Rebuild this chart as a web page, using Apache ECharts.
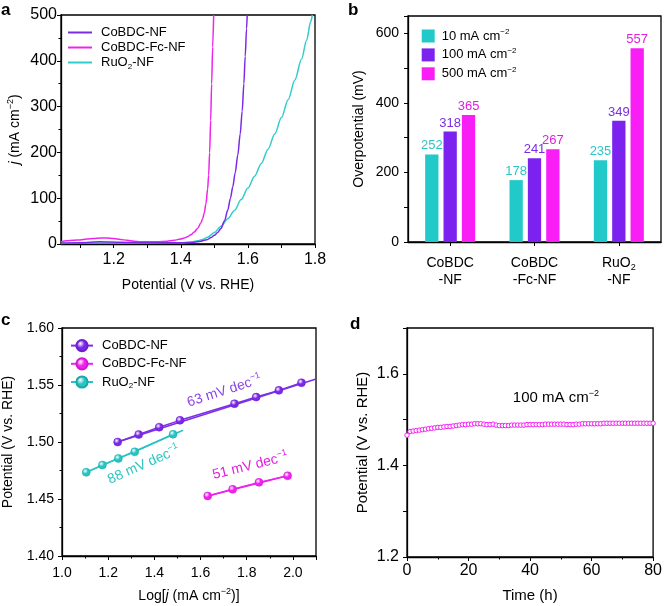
<!DOCTYPE html>
<html><head><meta charset="utf-8">
<script src="https://cdn.jsdelivr.net/npm/echarts@6/dist/echarts.min.js"></script>
<style>html,body{margin:0;padding:0;background:#fff}#c{width:665px;height:606px}</style>
</head><body><div id="c"></div>
<script>
// ---- Panel a: polarization curves [potential (V vs RHE), j (mA cm-2)]
const lsvCoBDC = [[1.043,2],[1.10,3],[1.16,5],[1.22,4],[1.30,3],[1.40,3],[1.44,4],[1.46,6],[1.47,8],[1.48,10],[1.49,14],[1.50,19],[1.51,25],[1.52,34],[1.53,50],[1.54,74],[1.548,100],[1.555,125],[1.562,155],[1.57,195],[1.577,240],[1.583,290],[1.588,350],[1.592,410],[1.596,470],[1.598,500]];
const lsvCoBDCFc = [[1.043,5],[1.06,7],[1.08,8],[1.10,9],[1.12,11],[1.14,12],[1.16,13],[1.18,13],[1.20,12],[1.22,10],[1.24,8],[1.26,6],[1.28,5],[1.30,5],[1.33,5],[1.36,6],[1.38,8],[1.40,11],[1.41,13],[1.42,16],[1.43,20],[1.44,26],[1.45,34],[1.46,46],[1.465,55],[1.47,68],[1.475,88],[1.48,120],[1.483,150],[1.486,200],[1.489,270],[1.492,350],[1.495,430],[1.498,500]];
const lsvRuO2 = [[1.043,1],[1.10,2],[1.20,2],[1.30,2],[1.40,3],[1.43,4],[1.45,7],[1.465,10],[1.48,15],[1.50,25],[1.52,39],[1.54,55],[1.56,73],[1.58,97],[1.60,122],[1.62,148],[1.64,176],[1.66,207],[1.68,240],[1.70,276],[1.72,315],[1.74,358],[1.76,404],[1.775,445],[1.787,485],[1.792,500]];
const ticksA = [1.2,1.4,1.6,1.8];
const minorTicksA = [1.1,1.2,1.3,1.4,1.5,1.6,1.7,1.8];

// ---- Panel b: overpotentials (mV)
const catB = ['CoBDC-NF','CoBDC-Fc-NF','RuO2-NF'];
const eta10 = [252,178,235];
const eta100 = [318,241,349];
const eta500 = [365,267,557];
const ticksB = [0,200,400,600];

// ---- Panel c: Tafel plots [log j, potential]
const tafCoBDC = [[1.241,1.500],[1.332,1.5066],[1.421,1.513],[1.511,1.519],[1.747,1.5336],[1.841,1.5394],[1.939,1.5453],[2.037,1.552]];
const tafCoBDCFc = [[1.631,1.4527],[1.739,1.4585],[1.853,1.4646],[1.977,1.4704]];
const tafRuO2 = [[1.105,1.4734],[1.175,1.4798],[1.244,1.4856],[1.315,1.4914],[1.481,1.5068]];
const fitCoBDC = [[1.241,1.500],[2.1,1.5553]];
const fitCoBDCFc = [[1.631,1.4527],[1.99,1.4711]];
const fitRuO2 = [[1.105,1.4734],[1.524,1.5103]];
const ticksCx = [1.0,1.2,1.4,1.6,1.8,2.0];
const slopeLabels = [
  {text:'63 mV dec', pos:[1.703,1.5447], rot:18, color:'#8b45e6'},
  {text:'88 mV dec', pos:[1.354,1.480], rot:24, color:'#2fc4c4'},
  {text:'51 mV dec', pos:[1.815,1.479], rot:14, color:'#e21fe0'}
];

// ---- Panel d: chronopotentiometry at 100 mA cm-2
const timeH = [0,1,2,3,4,5,6,7,8,9,10,11,12,13,14,15,16,17,18,19,20,21,22,23,24,25,26,27,28,29,30,31,32,33,34,35,36,37,38,39,40,41,42,43,44,45,46,47,48,49,50,51,52,53,54,55,56,57,58,59,60,61,62,63,64,65,66,67,68,69,70,71,72,73,74,75,76,77,78,79,80];
const potD = [1.466,1.474,1.475,1.476,1.477,1.478,1.479,1.480,1.481,1.482,1.483,1.483,1.484,1.485,1.485,1.486,1.487,1.488,1.489,1.489,1.490,1.490,1.491,1.491,1.491,1.490,1.489,1.489,1.490,1.488,1.487,1.487,1.487,1.487,1.488,1.488,1.488,1.488,1.488,1.489,1.489,1.489,1.489,1.489,1.489,1.490,1.490,1.490,1.490,1.490,1.490,1.490,1.489,1.489,1.489,1.490,1.490,1.491,1.491,1.491,1.491,1.491,1.491,1.491,1.492,1.492,1.492,1.492,1.492,1.492,1.492,1.492,1.492,1.492,1.492,1.492,1.492,1.492,1.492,1.492,1.492];
const ticksDy = [1.2,1.4,1.6];

const FONT = 'Liberation Sans';
const PURPLE = '#7b22ee', MAGENTA = '#f81ef5', TEAL = '#22c9c9';
function richFor(fs){ return {
  t:{fontFamily:FONT,fontSize:fs,lineHeight:fs+4,color:'#000'},
  i:{fontFamily:FONT,fontSize:fs,lineHeight:fs+4,fontStyle:'italic',color:'#000'},
  s:{fontFamily:FONT,fontSize:Math.round(fs*0.64),lineHeight:Math.round(fs*0.7),verticalAlign:'top',color:'#000'},
  b:{fontFamily:FONT,fontSize:Math.round(fs*0.64),lineHeight:Math.round(fs*0.7),verticalAlign:'bottom',color:'#000'}
};}
function ax(o, fs, nfs, margin){
  const base = {
    axisLine:{show:true,onZero:false,lineStyle:{color:'#000',width:1.3}},
    splitLine:{show:false},
    nameLocation:'middle',
    nameTextStyle:{color:'#000',fontFamily:FONT,fontSize:nfs,rich:richFor(nfs)}
  };
  return Object.assign(base, o, {
    axisLabel:Object.assign({color:'#000',fontFamily:FONT,fontSize:fs,margin:margin}, o.axisLabel||{}),
    axisTick:Object.assign({show:true,length:4,lineStyle:{color:'#000',width:1}}, o.axisTick||{})
  });
}
const minor = {show:true,splitNumber:2,length:2.5,lineStyle:{color:'#000'}};
function sphere(c){ return {type:'radial',x:0.38,y:0.35,r:0.7,colorStops:[{offset:0,color:'#ffffff'},{offset:0.45,color:c},{offset:1,color:c}]}; }
const gridStyle = {show:true,borderColor:'#000',borderWidth:1.3,backgroundColor:'transparent',containLabel:false};
const legRich = {t:{fontFamily:FONT,fontSize:13,lineHeight:16,color:'#000'},
  b:{fontFamily:FONT,fontSize:8,lineHeight:9,verticalAlign:'bottom',color:'#000'},
  s:{fontFamily:FONT,fontSize:8,lineHeight:9,verticalAlign:'top',color:'#000'}};

const chart = echarts.init(document.getElementById('c'), null, {renderer:'canvas'});
const option = {
  backgroundColor:'#fff',
  animation:false,
  textStyle:{fontFamily:FONT},
  grid:[
    Object.assign({left:61,top:15,width:254,height:229}, gridStyle),
    Object.assign({left:408,top:16,width:253,height:226}, gridStyle),
    Object.assign({left:62,top:328,width:254,height:228}, gridStyle),
    Object.assign({left:407,top:328,width:250,height:229}, gridStyle)
  ],
  xAxis:[
    ax({type:'value',gridIndex:0,min:1.043,max:1.8,name:'Potential (V vs. RHE)',nameGap:34,
      axisLabel:{customValues:ticksA,formatter:v=>v.toFixed(1)},axisTick:{customValues:minorTicksA}}, 16, 14, 8),
    ax({type:'category',gridIndex:1,data:catB,
      axisTick:{alignWithLabel:true},
      axisLabel:{interval:0,lineHeight:17,formatter:function(v){
        if(v==='RuO2-NF') return '{t|RuO}{b|2}\n{t|-NF}';
        const k=v.indexOf('-'); return '{t|'+v.slice(0,k)+'}\n{t|'+v.slice(k)+'}';
      },rich:{t:{fontFamily:FONT,fontSize:14,lineHeight:17,color:'#000'},b:{fontFamily:FONT,fontSize:9,lineHeight:10,verticalAlign:'bottom',color:'#000'}}}}, 14, 14, 13),
    ax({type:'value',gridIndex:2,min:1.0,max:2.1,interval:0.2,name:'Log[{i|j} (mA cm{s|−2})]',nameGap:31,
      minorTick:minor,
      axisLabel:{customValues:ticksCx,formatter:v=>v.toFixed(1)}}, 14, 14, 10),
    ax({type:'value',gridIndex:3,min:0,max:80,interval:20,name:'Time (h)',nameGap:31,
      minorTick:minor}, 16, 15, 6)
  ],
  yAxis:[
    ax({type:'value',gridIndex:0,min:0,max:500,interval:100,name:'{i|j} {t|(mA cm}{s|−2}{t|)}',nameGap:37,
      minorTick:minor}, 16, 14, 4),
    ax({type:'value',gridIndex:1,min:0,max:650,interval:100,name:'Overpotential (mV)',nameGap:42,
      axisLabel:{customValues:ticksB}}, 14, 14, 9),
    ax({type:'value',gridIndex:2,min:1.4,max:1.6,interval:0.05,name:'Potential (V vs. RHE)',nameGap:47,
      minorTick:minor,
      axisLabel:{formatter:v=>v.toFixed(2)}}, 14, 14, 8),
    ax({type:'value',gridIndex:3,min:1.2,max:1.7,interval:0.1,name:'Potential (V vs. RHE)',nameGap:37,
      axisLabel:{customValues:ticksDy,formatter:v=>v.toFixed(1)}}, 16, 15, 8)
  ],
  legend:[
    {orient:'vertical',left:68,top:26,padding:0,itemWidth:24,itemHeight:2,itemGap:2,icon:'rect',data:['CoBDC-NF','CoBDC-Fc-NF','RuO2-NF'],
      formatter:n=> n==='RuO2-NF'?'{t|RuO}{b|2}{t|-NF}':'{t|'+n+'}',
      textStyle:{fontFamily:FONT,fontSize:13,padding:[0,0,0,4],rich:legRich}},
    {orient:'vertical',left:421.7,top:28,padding:0,itemWidth:13,itemHeight:13,itemGap:4.4,icon:'rect',data:['10','100','500'],
      formatter:n=>'{t|'+n+' mA cm}{s|−2}',
      textStyle:{fontFamily:FONT,fontSize:13,padding:[0,0,0,2],rich:legRich}},
    {orient:'vertical',left:70,top:339,padding:0,itemWidth:22,itemHeight:14,itemGap:5,data:['c:CoBDC-NF','c:CoBDC-Fc-NF','c:RuO2-NF'],
      formatter:n=>{n=n.slice(2); return n==='RuO2-NF'?'{t|RuO}{b|2}{t|-NF}':'{t|'+n+'}';},
      textStyle:{fontFamily:FONT,fontSize:13,padding:[0,0,0,4],rich:legRich}}
  ],
  series:[
    // panel a
    {name:'CoBDC-NF',type:'line',xAxisIndex:0,yAxisIndex:0,data:lsvCoBDC,symbol:'none',smooth:0.3,smoothMonotone:'x',lineStyle:{color:'#7a2be8',width:1.5},itemStyle:{color:'#7a2be8'},z:3},
    {name:'CoBDC-Fc-NF',type:'line',xAxisIndex:0,yAxisIndex:0,data:lsvCoBDCFc,symbol:'none',smooth:0.3,smoothMonotone:'x',lineStyle:{color:'#ee24ee',width:1.5},itemStyle:{color:'#ee24ee'},z:2},
    {name:'RuO2-NF',type:'line',xAxisIndex:0,yAxisIndex:0,data:lsvRuO2,symbol:'none',smooth:0.3,smoothMonotone:'x',lineStyle:{color:'#33cccc',width:1.5},itemStyle:{color:'#33cccc'},z:2},
    // panel b
    {name:'10',type:'bar',xAxisIndex:1,yAxisIndex:1,data:eta10,barWidth:13.3,barGap:'38%',itemStyle:{color:TEAL},
      label:{show:true,position:'top',distance:2,color:'#2fc4c4',fontFamily:FONT,fontSize:13}},
    {name:'100',type:'bar',xAxisIndex:1,yAxisIndex:1,data:eta100,barWidth:13.3,barGap:'38%',itemStyle:{color:PURPLE},
      label:{show:true,position:'top',distance:2,color:'#7b2ee0',fontFamily:FONT,fontSize:13}},
    {name:'500',type:'bar',xAxisIndex:1,yAxisIndex:1,data:eta500,barWidth:13.3,barGap:'38%',itemStyle:{color:MAGENTA},
      label:{show:true,position:'top',distance:2,color:'#e21fe0',fontFamily:FONT,fontSize:13}},
    // panel c fits
    {name:'fit1',type:'line',xAxisIndex:2,yAxisIndex:2,data:fitCoBDC,symbol:'none',lineStyle:{color:'#7b2fe6',width:1.5},z:2},
    {name:'fit2',type:'line',xAxisIndex:2,yAxisIndex:2,data:fitCoBDCFc,symbol:'none',lineStyle:{color:'#ea24ea',width:1.5},z:2},
    {name:'fit3',type:'line',xAxisIndex:2,yAxisIndex:2,data:fitRuO2,symbol:'none',lineStyle:{color:'#26c4c4',width:1.5},z:2},
    // panel c points
    {name:'c:CoBDC-NF',type:'line',xAxisIndex:2,yAxisIndex:2,data:tafCoBDC,symbol:'circle',symbolSize:8,lineStyle:{color:'#7b2fe6',width:1.5},itemStyle:{color:sphere('#7a28e8'),borderColor:'#6a1fd0',borderWidth:0.5},z:4},
    {name:'c:CoBDC-Fc-NF',type:'line',xAxisIndex:2,yAxisIndex:2,data:tafCoBDCFc,symbol:'circle',symbolSize:8,lineStyle:{color:'#ea24ea',width:1.5},itemStyle:{color:sphere('#f020ee'),borderColor:'#d018d0',borderWidth:0.5},z:4},
    {name:'c:RuO2-NF',type:'line',xAxisIndex:2,yAxisIndex:2,data:tafRuO2,symbol:'circle',symbolSize:8,lineStyle:{color:'#26c4c4',width:1.5},itemStyle:{color:sphere('#26c4c4'),borderColor:'#1aa8a8',borderWidth:0.5},z:4},
    // panel d
    {name:'d',type:'line',xAxisIndex:3,yAxisIndex:3,data:timeH.map((t,i)=>[t,potD[i]]),symbol:'circle',symbolSize:4.5,showAllSymbol:true,
      lineStyle:{color:MAGENTA,width:0.8},itemStyle:{color:'#fff',borderColor:MAGENTA,borderWidth:1}}
  ]
};
chart.setOption(option);

// annotations placed through the axes' own scales
const graphics = [];
const panelLabels = [['a',1,2],['b',348,2],['c',1,312],['d',350,316]];
panelLabels.forEach(p=>graphics.push({type:'text',left:p[1],top:p[2],style:{text:p[0],font:'bold 17px "Liberation Sans"',fill:'#000'}}));
slopeLabels.forEach(s=>{
  const px = chart.convertToPixel({xAxisIndex:2,yAxisIndex:2}, s.pos);
  graphics.push({type:'text',x:px[0],y:px[1],rotation:s.rot*Math.PI/180,
    style:{text:'{t|'+s.text+'}{s|−1}',align:'center',verticalAlign:'middle',
      rich:{t:{fontFamily:FONT,fontSize:14,lineHeight:18,fill:s.color},s:{fontFamily:FONT,fontSize:9,lineHeight:10,verticalAlign:'top',fill:s.color}}}});
});
const dp = chart.convertToPixel({xAxisIndex:3,yAxisIndex:3}, [48.4,1.547]);
graphics.push({type:'text',x:dp[0],y:dp[1],style:{text:'{t|100 mA cm}{s|−2}',align:'center',verticalAlign:'middle',
  rich:{t:{fontFamily:FONT,fontSize:15,lineHeight:19,fill:'#000'},s:{fontFamily:FONT,fontSize:9,lineHeight:10,verticalAlign:'top',fill:'#000'}}}});
chart.setOption({graphic:graphics});
</script></body></html>
